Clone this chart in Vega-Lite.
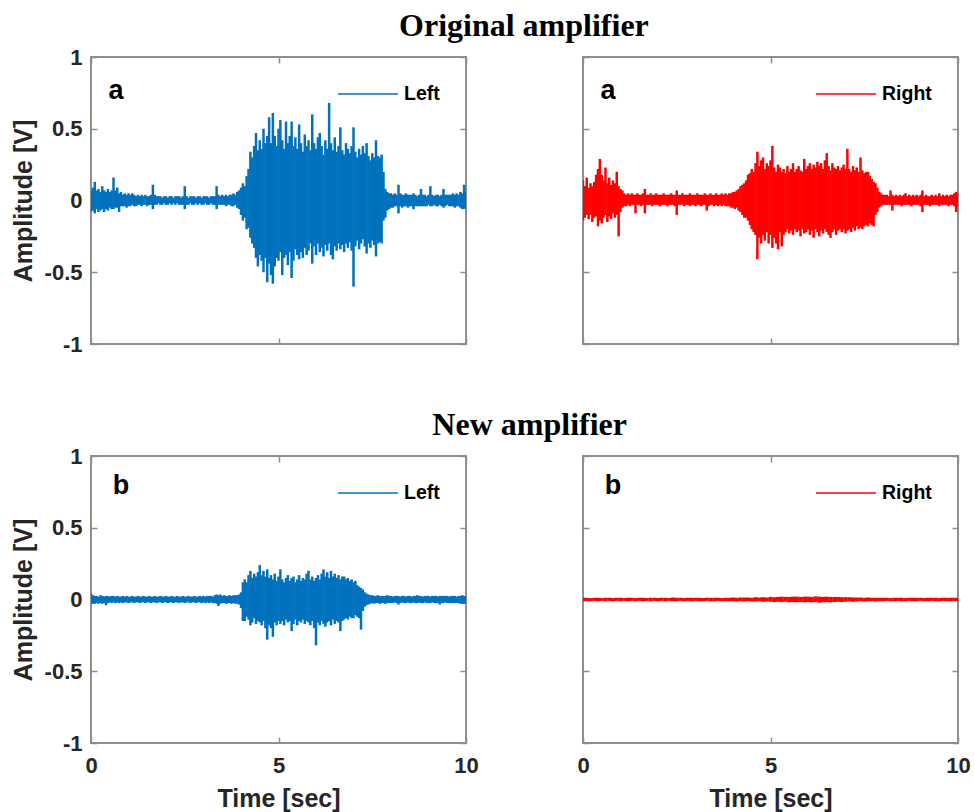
{
"$schema": "https://vega.github.io/schema/vega-lite/v6.json",
"padding": {"left": 10, "top": 10, "right": 0, "bottom": 0},
"config": {
  "view": {"stroke": "#8f8f8f", "strokeWidth": 2},
  "axis": {"labelFont": "Liberation Sans", "labelFontWeight": "bold", "labelFontSize": 22, "labelColor": "#262626", "titleFont": "Liberation Sans", "titleFontWeight": "bold", "titleFontSize": 25, "titleColor": "#262626", "domain": false, "grid": false, "tickColor": "#8f8f8f", "tickWidth": 1.5, "tickSize": -6, "labelPadding": 15, "titlePadding": 8, "labelFlush": false, "labelExpr": "'' + datum.value"},
  "legend": {"orient": "top-right", "offset": 26, "padding": 0, "symbolType": "M-5,0H1", "symbolSize": 400, "symbolStrokeWidth": 1.5, "labelFont": "Liberation Sans", "labelFontWeight": "bold", "labelFontSize": 19.5, "labelColor": "#000000", "labelOffset": 5},
  "title": {"font": "Liberation Serif", "fontSize": 32, "fontWeight": "bold", "color": "#000000", "anchor": "middle", "frame": "bounds", "baseline": "alphabetic", "offset": 2, "dx": 39}
},
"datasets": {
"tl": [
{"t":0,"lo":-0.08,"hi":0.07},{"t":0.05,"lo":-0.07,"hi":0.09},{"t":0.1,"lo":-0.09,"hi":0.13},{"t":0.15,"lo":-0.06,"hi":0.07},{"t":0.2,"lo":-0.08,"hi":0.08},{"t":0.25,"lo":-0.07,"hi":0.06},{"t":0.3,"lo":-0.06,"hi":0.1},{"t":0.35,"lo":-0.08,"hi":0.07},{"t":0.4,"lo":-0.06,"hi":0.06},{"t":0.45,"lo":-0.07,"hi":0.08},
{"t":0.5,"lo":-0.05,"hi":0.06},{"t":0.55,"lo":-0.06,"hi":0.07},{"t":0.6,"lo":-0.06,"hi":0.16},{"t":0.65,"lo":-0.05,"hi":0.07},{"t":0.7,"lo":-0.05,"hi":0.09},{"t":0.75,"lo":-0.08,"hi":0.05},{"t":0.8,"lo":-0.04,"hi":0.06},{"t":0.85,"lo":-0.04,"hi":0.04},{"t":0.9,"lo":-0.04,"hi":0.05},{"t":0.95,"lo":-0.05,"hi":0.04},
{"t":1,"lo":-0.04,"hi":0.05},{"t":1.05,"lo":-0.04,"hi":0.04},{"t":1.1,"lo":-0.03,"hi":0.05},{"t":1.15,"lo":-0.04,"hi":0.04},{"t":1.2,"lo":-0.04,"hi":0.03},{"t":1.25,"lo":-0.03,"hi":0.04},{"t":1.3,"lo":-0.03,"hi":0.03},{"t":1.35,"lo":-0.04,"hi":0.04},{"t":1.4,"lo":-0.03,"hi":0.03},{"t":1.45,"lo":-0.03,"hi":0.04},
{"t":1.5,"lo":-0.04,"hi":0.03},{"t":1.55,"lo":-0.03,"hi":0.03},{"t":1.6,"lo":-0.03,"hi":0.04},{"t":1.65,"lo":-0.06,"hi":0.11},{"t":1.7,"lo":-0.03,"hi":0.04},{"t":1.75,"lo":-0.03,"hi":0.03},{"t":1.8,"lo":-0.02,"hi":0.03},{"t":1.85,"lo":-0.03,"hi":0.03},{"t":1.9,"lo":-0.03,"hi":0.02},{"t":1.95,"lo":-0.02,"hi":0.03},
{"t":2,"lo":-0.03,"hi":0.03},{"t":2.05,"lo":-0.03,"hi":0.02},{"t":2.1,"lo":-0.02,"hi":0.03},{"t":2.15,"lo":-0.03,"hi":0.03},{"t":2.2,"lo":-0.02,"hi":0.02},{"t":2.25,"lo":-0.03,"hi":0.03},{"t":2.3,"lo":-0.02,"hi":0.03},{"t":2.35,"lo":-0.03,"hi":0.03},{"t":2.4,"lo":-0.03,"hi":0.02},{"t":2.45,"lo":-0.03,"hi":0.03},
{"t":2.5,"lo":-0.06,"hi":0.1},{"t":2.55,"lo":-0.03,"hi":0.03},{"t":2.6,"lo":-0.03,"hi":0.02},{"t":2.65,"lo":-0.02,"hi":0.03},{"t":2.7,"lo":-0.03,"hi":0.03},{"t":2.75,"lo":-0.03,"hi":0.03},{"t":2.8,"lo":-0.02,"hi":0.02},{"t":2.85,"lo":-0.03,"hi":0.03},{"t":2.9,"lo":-0.02,"hi":0.03},{"t":2.95,"lo":-0.03,"hi":0.02},
{"t":3,"lo":-0.03,"hi":0.03},{"t":3.05,"lo":-0.02,"hi":0.03},{"t":3.1,"lo":-0.03,"hi":0.03},{"t":3.15,"lo":-0.03,"hi":0.02},{"t":3.2,"lo":-0.02,"hi":0.03},{"t":3.25,"lo":-0.03,"hi":0.03},{"t":3.3,"lo":-0.03,"hi":0.03},{"t":3.35,"lo":-0.06,"hi":0.1},{"t":3.4,"lo":-0.03,"hi":0.04},{"t":3.45,"lo":-0.03,"hi":0.03},
{"t":3.5,"lo":-0.03,"hi":0.04},{"t":3.55,"lo":-0.03,"hi":0.03},{"t":3.6,"lo":-0.04,"hi":0.04},{"t":3.65,"lo":-0.03,"hi":0.03},{"t":3.7,"lo":-0.03,"hi":0.04},{"t":3.75,"lo":-0.04,"hi":0.04},{"t":3.8,"lo":-0.04,"hi":0.05},{"t":3.85,"lo":-0.03,"hi":0.04},{"t":3.9,"lo":-0.05,"hi":0.06},{"t":3.95,"lo":-0.06,"hi":0.07},
{"t":4,"lo":-0.1,"hi":0.09},{"t":4.05,"lo":-0.14,"hi":0.12},{"t":4.1,"lo":-0.12,"hi":0.1},{"t":4.15,"lo":-0.2,"hi":0.17},{"t":4.2,"lo":-0.19,"hi":0.22},{"t":4.25,"lo":-0.26,"hi":0.34},{"t":4.3,"lo":-0.3,"hi":0.3},{"t":4.35,"lo":-0.33,"hi":0.38},{"t":4.4,"lo":-0.4,"hi":0.47},{"t":4.45,"lo":-0.46,"hi":0.35},
{"t":4.5,"lo":-0.38,"hi":0.42},{"t":4.55,"lo":-0.42,"hi":0.36},{"t":4.6,"lo":-0.5,"hi":0.5},{"t":4.65,"lo":-0.4,"hi":0.4},{"t":4.7,"lo":-0.57,"hi":0.45},{"t":4.75,"lo":-0.44,"hi":0.58},{"t":4.8,"lo":-0.52,"hi":0.4},{"t":4.85,"lo":-0.58,"hi":0.61},{"t":4.9,"lo":-0.46,"hi":0.45},{"t":4.95,"lo":-0.4,"hi":0.38},
{"t":5,"lo":-0.42,"hi":0.5},{"t":5.05,"lo":-0.36,"hi":0.56},{"t":5.1,"lo":-0.52,"hi":0.42},{"t":5.15,"lo":-0.4,"hi":0.36},{"t":5.2,"lo":-0.38,"hi":0.55},{"t":5.25,"lo":-0.45,"hi":0.4},{"t":5.3,"lo":-0.36,"hi":0.45},{"t":5.35,"lo":-0.54,"hi":0.55},{"t":5.4,"lo":-0.42,"hi":0.38},{"t":5.45,"lo":-0.34,"hi":0.44},
{"t":5.5,"lo":-0.38,"hi":0.36},{"t":5.55,"lo":-0.41,"hi":0.53},{"t":5.6,"lo":-0.36,"hi":0.4},{"t":5.65,"lo":-0.4,"hi":0.34},{"t":5.7,"lo":-0.33,"hi":0.46},{"t":5.75,"lo":-0.38,"hi":0.38},{"t":5.8,"lo":-0.35,"hi":0.42},{"t":5.85,"lo":-0.3,"hi":0.35},{"t":5.9,"lo":-0.44,"hi":0.6},{"t":5.95,"lo":-0.32,"hi":0.4},
{"t":6,"lo":-0.38,"hi":0.36},{"t":6.05,"lo":-0.3,"hi":0.44},{"t":6.1,"lo":-0.36,"hi":0.47},{"t":6.15,"lo":-0.33,"hi":0.38},{"t":6.2,"lo":-0.39,"hi":0.32},{"t":6.25,"lo":-0.31,"hi":0.42},{"t":6.3,"lo":-0.35,"hi":0.36},{"t":6.35,"lo":-0.3,"hi":0.68},{"t":6.4,"lo":-0.38,"hi":0.4},{"t":6.45,"lo":-0.41,"hi":0.35},
{"t":6.5,"lo":-0.32,"hi":0.44},{"t":6.55,"lo":-0.35,"hi":0.34},{"t":6.6,"lo":-0.3,"hi":0.38},{"t":6.65,"lo":-0.34,"hi":0.51},{"t":6.7,"lo":-0.31,"hi":0.35},{"t":6.75,"lo":-0.36,"hi":0.32},{"t":6.8,"lo":-0.3,"hi":0.4},{"t":6.85,"lo":-0.33,"hi":0.36},{"t":6.9,"lo":-0.29,"hi":0.33},{"t":6.95,"lo":-0.35,"hi":0.38},
{"t":7,"lo":-0.6,"hi":0.51},{"t":7.05,"lo":-0.32,"hi":0.34},{"t":7.1,"lo":-0.28,"hi":0.3},{"t":7.15,"lo":-0.34,"hi":0.36},{"t":7.2,"lo":-0.3,"hi":0.32},{"t":7.25,"lo":-0.27,"hi":0.38},{"t":7.3,"lo":-0.32,"hi":0.33},{"t":7.35,"lo":-0.37,"hi":0.4},{"t":7.4,"lo":-0.3,"hi":0.31},{"t":7.45,"lo":-0.33,"hi":0.28},
{"t":7.5,"lo":-0.28,"hi":0.33},{"t":7.55,"lo":-0.31,"hi":0.3},{"t":7.6,"lo":-0.39,"hi":0.42},{"t":7.65,"lo":-0.3,"hi":0.31},{"t":7.7,"lo":-0.29,"hi":0.3},{"t":7.75,"lo":-0.3,"hi":0.32},{"t":7.8,"lo":-0.14,"hi":0.2},{"t":7.85,"lo":-0.12,"hi":0.08},{"t":7.9,"lo":-0.07,"hi":0.06},{"t":7.95,"lo":-0.06,"hi":0.05},
{"t":8,"lo":-0.05,"hi":0.05},{"t":8.05,"lo":-0.05,"hi":0.04},{"t":8.1,"lo":-0.04,"hi":0.05},{"t":8.15,"lo":-0.04,"hi":0.04},{"t":8.2,"lo":-0.09,"hi":0.11},{"t":8.25,"lo":-0.04,"hi":0.05},{"t":8.3,"lo":-0.05,"hi":0.04},{"t":8.35,"lo":-0.04,"hi":0.04},{"t":8.4,"lo":-0.04,"hi":0.05},{"t":8.45,"lo":-0.05,"hi":0.04},
{"t":8.5,"lo":-0.04,"hi":0.04},{"t":8.55,"lo":-0.04,"hi":0.04},{"t":8.6,"lo":-0.06,"hi":0.05},{"t":8.65,"lo":-0.04,"hi":0.04},{"t":8.7,"lo":-0.04,"hi":0.03},{"t":8.75,"lo":-0.04,"hi":0.04},{"t":8.8,"lo":-0.04,"hi":0.08},{"t":8.85,"lo":-0.04,"hi":0.04},{"t":8.9,"lo":-0.04,"hi":0.04},{"t":8.95,"lo":-0.04,"hi":0.03},
{"t":9,"lo":-0.03,"hi":0.04},{"t":9.05,"lo":-0.04,"hi":0.1},{"t":9.1,"lo":-0.04,"hi":0.04},{"t":9.15,"lo":-0.03,"hi":0.03},{"t":9.2,"lo":-0.04,"hi":0.04},{"t":9.25,"lo":-0.04,"hi":0.04},{"t":9.3,"lo":-0.03,"hi":0.03},{"t":9.35,"lo":-0.04,"hi":0.04},{"t":9.4,"lo":-0.05,"hi":0.08},{"t":9.45,"lo":-0.04,"hi":0.04},
{"t":9.5,"lo":-0.03,"hi":0.04},{"t":9.55,"lo":-0.04,"hi":0.04},{"t":9.6,"lo":-0.04,"hi":0.04},{"t":9.65,"lo":-0.04,"hi":0.05},{"t":9.7,"lo":-0.05,"hi":0.04},{"t":9.75,"lo":-0.04,"hi":0.05},{"t":9.8,"lo":-0.04,"hi":0.04},{"t":9.85,"lo":-0.05,"hi":0.06},{"t":9.9,"lo":-0.06,"hi":0.05},{"t":9.95,"lo":-0.06,"hi":0.11},{"t":10,"lo":-0.05,"hi":0.06}
],
"tr": [
{"t":0,"lo":-0.14,"hi":0.14},{"t":0.05,"lo":-0.12,"hi":0.1},{"t":0.1,"lo":-0.1,"hi":0.16},{"t":0.15,"lo":-0.13,"hi":0.09},{"t":0.2,"lo":-0.1,"hi":0.12},{"t":0.25,"lo":-0.15,"hi":0.1},{"t":0.3,"lo":-0.12,"hi":0.13},{"t":0.35,"lo":-0.11,"hi":0.18},{"t":0.4,"lo":-0.18,"hi":0.22},{"t":0.45,"lo":-0.14,"hi":0.29},
{"t":0.5,"lo":-0.16,"hi":0.18},{"t":0.55,"lo":-0.12,"hi":0.14},{"t":0.6,"lo":-0.1,"hi":0.23},{"t":0.65,"lo":-0.15,"hi":0.12},{"t":0.7,"lo":-0.11,"hi":0.16},{"t":0.75,"lo":-0.13,"hi":0.11},{"t":0.8,"lo":-0.09,"hi":0.14},{"t":0.85,"lo":-0.12,"hi":0.12},{"t":0.9,"lo":-0.1,"hi":0.2},{"t":0.95,"lo":-0.25,"hi":0.1},
{"t":1,"lo":-0.08,"hi":0.08},{"t":1.05,"lo":-0.05,"hi":0.07},{"t":1.1,"lo":-0.04,"hi":0.05},{"t":1.15,"lo":-0.04,"hi":0.04},{"t":1.2,"lo":-0.03,"hi":0.05},{"t":1.25,"lo":-0.04,"hi":0.04},{"t":1.3,"lo":-0.03,"hi":0.05},{"t":1.35,"lo":-0.03,"hi":0.04},{"t":1.4,"lo":-0.09,"hi":0.04},{"t":1.45,"lo":-0.03,"hi":0.05},
{"t":1.5,"lo":-0.03,"hi":0.04},{"t":1.55,"lo":-0.04,"hi":0.04},{"t":1.6,"lo":-0.03,"hi":0.05},{"t":1.65,"lo":-0.09,"hi":0.08},{"t":1.7,"lo":-0.03,"hi":0.04},{"t":1.75,"lo":-0.03,"hi":0.04},{"t":1.8,"lo":-0.03,"hi":0.05},{"t":1.85,"lo":-0.04,"hi":0.04},{"t":1.9,"lo":-0.03,"hi":0.04},{"t":1.95,"lo":-0.03,"hi":0.05},
{"t":2,"lo":-0.03,"hi":0.04},{"t":2.05,"lo":-0.04,"hi":0.04},{"t":2.1,"lo":-0.03,"hi":0.04},{"t":2.15,"lo":-0.03,"hi":0.05},{"t":2.2,"lo":-0.03,"hi":0.04},{"t":2.25,"lo":-0.04,"hi":0.04},{"t":2.3,"lo":-0.03,"hi":0.04},{"t":2.35,"lo":-0.03,"hi":0.05},{"t":2.4,"lo":-0.03,"hi":0.04},{"t":2.45,"lo":-0.04,"hi":0.04},
{"t":2.5,"lo":-0.1,"hi":0.07},{"t":2.55,"lo":-0.03,"hi":0.04},{"t":2.6,"lo":-0.03,"hi":0.04},{"t":2.65,"lo":-0.03,"hi":0.05},{"t":2.7,"lo":-0.04,"hi":0.04},{"t":2.75,"lo":-0.03,"hi":0.04},{"t":2.8,"lo":-0.03,"hi":0.04},{"t":2.85,"lo":-0.04,"hi":0.05},{"t":2.9,"lo":-0.03,"hi":0.04},{"t":2.95,"lo":-0.03,"hi":0.04},
{"t":3,"lo":-0.04,"hi":0.04},{"t":3.05,"lo":-0.03,"hi":0.05},{"t":3.1,"lo":-0.03,"hi":0.04},{"t":3.15,"lo":-0.04,"hi":0.04},{"t":3.2,"lo":-0.03,"hi":0.04},{"t":3.25,"lo":-0.03,"hi":0.05},{"t":3.3,"lo":-0.07,"hi":0.04},{"t":3.35,"lo":-0.04,"hi":0.04},{"t":3.4,"lo":-0.03,"hi":0.05},{"t":3.45,"lo":-0.03,"hi":0.04},
{"t":3.5,"lo":-0.04,"hi":0.04},{"t":3.55,"lo":-0.03,"hi":0.05},{"t":3.6,"lo":-0.04,"hi":0.04},{"t":3.65,"lo":-0.03,"hi":0.04},{"t":3.7,"lo":-0.04,"hi":0.05},{"t":3.75,"lo":-0.03,"hi":0.04},{"t":3.8,"lo":-0.04,"hi":0.05},{"t":3.85,"lo":-0.04,"hi":0.04},{"t":3.9,"lo":-0.04,"hi":0.05},{"t":3.95,"lo":-0.05,"hi":0.05},
{"t":4,"lo":-0.05,"hi":0.06},{"t":4.05,"lo":-0.06,"hi":0.06},{"t":4.1,"lo":-0.05,"hi":0.07},{"t":4.15,"lo":-0.07,"hi":0.08},{"t":4.2,"lo":-0.08,"hi":0.1},{"t":4.25,"lo":-0.1,"hi":0.11},{"t":4.3,"lo":-0.12,"hi":0.12},{"t":4.35,"lo":-0.12,"hi":0.14},{"t":4.4,"lo":-0.14,"hi":0.18},{"t":4.45,"lo":-0.17,"hi":0.19},
{"t":4.5,"lo":-0.2,"hi":0.22},{"t":4.55,"lo":-0.22,"hi":0.2},{"t":4.6,"lo":-0.24,"hi":0.26},{"t":4.65,"lo":-0.41,"hi":0.34},{"t":4.7,"lo":-0.26,"hi":0.24},{"t":4.75,"lo":-0.3,"hi":0.28},{"t":4.8,"lo":-0.24,"hi":0.3},{"t":4.85,"lo":-0.28,"hi":0.22},{"t":4.9,"lo":-0.22,"hi":0.26},{"t":4.95,"lo":-0.3,"hi":0.24},
{"t":5,"lo":-0.24,"hi":0.28},{"t":5.05,"lo":-0.33,"hi":0.38},{"t":5.1,"lo":-0.26,"hi":0.23},{"t":5.15,"lo":-0.3,"hi":0.2},{"t":5.2,"lo":-0.34,"hi":0.25},{"t":5.25,"lo":-0.22,"hi":0.23},{"t":5.3,"lo":-0.32,"hi":0.2},{"t":5.35,"lo":-0.24,"hi":0.22},{"t":5.4,"lo":-0.22,"hi":0.19},{"t":5.45,"lo":-0.2,"hi":0.24},
{"t":5.5,"lo":-0.23,"hi":0.2},{"t":5.55,"lo":-0.21,"hi":0.22},{"t":5.6,"lo":-0.24,"hi":0.26},{"t":5.65,"lo":-0.2,"hi":0.2},{"t":5.7,"lo":-0.22,"hi":0.22},{"t":5.75,"lo":-0.21,"hi":0.24},{"t":5.8,"lo":-0.25,"hi":0.21},{"t":5.85,"lo":-0.2,"hi":0.2},{"t":5.9,"lo":-0.23,"hi":0.29},{"t":5.95,"lo":-0.22,"hi":0.22},
{"t":6,"lo":-0.2,"hi":0.24},{"t":6.05,"lo":-0.24,"hi":0.26},{"t":6.1,"lo":-0.21,"hi":0.22},{"t":6.15,"lo":-0.26,"hi":0.25},{"t":6.2,"lo":-0.2,"hi":0.23},{"t":6.25,"lo":-0.22,"hi":0.27},{"t":6.3,"lo":-0.25,"hi":0.24},{"t":6.35,"lo":-0.21,"hi":0.26},{"t":6.4,"lo":-0.23,"hi":0.22},{"t":6.45,"lo":-0.2,"hi":0.28},
{"t":6.5,"lo":-0.22,"hi":0.33},{"t":6.55,"lo":-0.24,"hi":0.24},{"t":6.6,"lo":-0.26,"hi":0.21},{"t":6.65,"lo":-0.22,"hi":0.26},{"t":6.7,"lo":-0.2,"hi":0.23},{"t":6.75,"lo":-0.24,"hi":0.22},{"t":6.8,"lo":-0.21,"hi":0.24},{"t":6.85,"lo":-0.2,"hi":0.21},{"t":6.9,"lo":-0.22,"hi":0.23},{"t":6.95,"lo":-0.2,"hi":0.25},
{"t":7,"lo":-0.23,"hi":0.22},{"t":7.05,"lo":-0.21,"hi":0.36},{"t":7.1,"lo":-0.2,"hi":0.22},{"t":7.15,"lo":-0.22,"hi":0.2},{"t":7.2,"lo":-0.19,"hi":0.24},{"t":7.25,"lo":-0.21,"hi":0.21},{"t":7.3,"lo":-0.18,"hi":0.23},{"t":7.35,"lo":-0.2,"hi":0.2},{"t":7.4,"lo":-0.19,"hi":0.3},{"t":7.45,"lo":-0.2,"hi":0.21},
{"t":7.5,"lo":-0.18,"hi":0.19},{"t":7.55,"lo":-0.17,"hi":0.2},{"t":7.6,"lo":-0.18,"hi":0.2},{"t":7.65,"lo":-0.16,"hi":0.17},{"t":7.7,"lo":-0.17,"hi":0.15},{"t":7.75,"lo":-0.18,"hi":0.13},{"t":7.8,"lo":-0.1,"hi":0.12},{"t":7.85,"lo":-0.08,"hi":0.09},{"t":7.9,"lo":-0.05,"hi":0.06},{"t":7.95,"lo":-0.04,"hi":0.05},
{"t":8,"lo":-0.03,"hi":0.04},{"t":8.05,"lo":-0.03,"hi":0.04},{"t":8.1,"lo":-0.03,"hi":0.04},{"t":8.15,"lo":-0.03,"hi":0.03},{"t":8.2,"lo":-0.03,"hi":0.07},{"t":8.25,"lo":-0.07,"hi":0.04},{"t":8.3,"lo":-0.03,"hi":0.03},{"t":8.35,"lo":-0.03,"hi":0.04},{"t":8.4,"lo":-0.03,"hi":0.03},{"t":8.45,"lo":-0.03,"hi":0.04},
{"t":8.5,"lo":-0.04,"hi":0.03},{"t":8.55,"lo":-0.03,"hi":0.04},{"t":8.6,"lo":-0.03,"hi":0.05},{"t":8.65,"lo":-0.03,"hi":0.03},{"t":8.7,"lo":-0.03,"hi":0.04},{"t":8.75,"lo":-0.04,"hi":0.03},{"t":8.8,"lo":-0.03,"hi":0.04},{"t":8.85,"lo":-0.03,"hi":0.03},{"t":8.9,"lo":-0.03,"hi":0.04},{"t":8.95,"lo":-0.03,"hi":0.03},
{"t":9,"lo":-0.04,"hi":0.04},{"t":9.05,"lo":-0.08,"hi":0.07},{"t":9.1,"lo":-0.03,"hi":0.03},{"t":9.15,"lo":-0.03,"hi":0.04},{"t":9.2,"lo":-0.03,"hi":0.03},{"t":9.25,"lo":-0.04,"hi":0.03},{"t":9.3,"lo":-0.03,"hi":0.04},{"t":9.35,"lo":-0.03,"hi":0.03},{"t":9.4,"lo":-0.03,"hi":0.04},{"t":9.45,"lo":-0.03,"hi":0.03},
{"t":9.5,"lo":-0.04,"hi":0.05},{"t":9.55,"lo":-0.03,"hi":0.03},{"t":9.6,"lo":-0.03,"hi":0.04},{"t":9.65,"lo":-0.03,"hi":0.03},{"t":9.7,"lo":-0.03,"hi":0.04},{"t":9.75,"lo":-0.04,"hi":0.03},{"t":9.8,"lo":-0.03,"hi":0.04},{"t":9.85,"lo":-0.03,"hi":0.04},{"t":9.9,"lo":-0.04,"hi":0.05},{"t":9.95,"lo":-0.08,"hi":0.06},{"t":10,"lo":-0.04,"hi":0.05}
],
"bl": [
{"t":0,"lo":-0.03,"hi":0.04},{"t":0.05,"lo":-0.03,"hi":0.03},{"t":0.1,"lo":-0.03,"hi":0.025},{"t":0.15,"lo":-0.025,"hi":0.025},{"t":0.2,"lo":-0.03,"hi":0.02},{"t":0.25,"lo":-0.025,"hi":0.03},{"t":0.3,"lo":-0.03,"hi":0.025},{"t":0.35,"lo":-0.025,"hi":0.02},{"t":0.4,"lo":-0.04,"hi":0.025},{"t":0.45,"lo":-0.025,"hi":0.025},
{"t":0.5,"lo":-0.02,"hi":0.02},{"t":0.55,"lo":-0.025,"hi":0.025},{"t":0.6,"lo":-0.02,"hi":0.025},{"t":0.65,"lo":-0.025,"hi":0.02},{"t":0.7,"lo":-0.02,"hi":0.025},{"t":0.75,"lo":-0.025,"hi":0.02},{"t":0.8,"lo":-0.02,"hi":0.02},{"t":0.85,"lo":-0.025,"hi":0.025},{"t":0.9,"lo":-0.02,"hi":0.02},{"t":0.95,"lo":-0.02,"hi":0.025},
{"t":1,"lo":-0.025,"hi":0.02},{"t":1.05,"lo":-0.02,"hi":0.02},{"t":1.1,"lo":-0.02,"hi":0.025},{"t":1.15,"lo":-0.025,"hi":0.02},{"t":1.2,"lo":-0.02,"hi":0.02},{"t":1.25,"lo":-0.02,"hi":0.025},{"t":1.3,"lo":-0.025,"hi":0.02},{"t":1.35,"lo":-0.02,"hi":0.02},{"t":1.4,"lo":-0.02,"hi":0.025},{"t":1.45,"lo":-0.025,"hi":0.02},
{"t":1.5,"lo":-0.02,"hi":0.02},{"t":1.55,"lo":-0.02,"hi":0.025},{"t":1.6,"lo":-0.025,"hi":0.02},{"t":1.65,"lo":-0.02,"hi":0.02},{"t":1.7,"lo":-0.02,"hi":0.025},{"t":1.75,"lo":-0.025,"hi":0.02},{"t":1.8,"lo":-0.02,"hi":0.02},{"t":1.85,"lo":-0.02,"hi":0.025},{"t":1.9,"lo":-0.025,"hi":0.02},{"t":1.95,"lo":-0.02,"hi":0.02},
{"t":2,"lo":-0.02,"hi":0.025},{"t":2.05,"lo":-0.025,"hi":0.02},{"t":2.1,"lo":-0.02,"hi":0.02},{"t":2.15,"lo":-0.02,"hi":0.025},{"t":2.2,"lo":-0.025,"hi":0.02},{"t":2.25,"lo":-0.02,"hi":0.02},{"t":2.3,"lo":-0.02,"hi":0.025},{"t":2.35,"lo":-0.025,"hi":0.02},{"t":2.4,"lo":-0.02,"hi":0.02},{"t":2.45,"lo":-0.02,"hi":0.025},
{"t":2.5,"lo":-0.025,"hi":0.02},{"t":2.55,"lo":-0.02,"hi":0.02},{"t":2.6,"lo":-0.02,"hi":0.025},{"t":2.65,"lo":-0.025,"hi":0.02},{"t":2.7,"lo":-0.02,"hi":0.02},{"t":2.75,"lo":-0.02,"hi":0.025},{"t":2.8,"lo":-0.025,"hi":0.02},{"t":2.85,"lo":-0.02,"hi":0.02},{"t":2.9,"lo":-0.02,"hi":0.025},{"t":2.95,"lo":-0.025,"hi":0.02},
{"t":3,"lo":-0.02,"hi":0.025},{"t":3.05,"lo":-0.025,"hi":0.02},{"t":3.1,"lo":-0.02,"hi":0.025},{"t":3.15,"lo":-0.025,"hi":0.025},{"t":3.2,"lo":-0.02,"hi":0.025},{"t":3.25,"lo":-0.025,"hi":0.02},{"t":3.3,"lo":-0.025,"hi":0.03},{"t":3.35,"lo":-0.03,"hi":0.035},{"t":3.4,"lo":-0.045,"hi":0.03},{"t":3.45,"lo":-0.03,"hi":0.035},
{"t":3.5,"lo":-0.025,"hi":0.025},{"t":3.55,"lo":-0.025,"hi":0.03},{"t":3.6,"lo":-0.03,"hi":0.025},{"t":3.65,"lo":-0.025,"hi":0.025},{"t":3.7,"lo":-0.025,"hi":0.03},{"t":3.75,"lo":-0.03,"hi":0.025},{"t":3.8,"lo":-0.025,"hi":0.03},{"t":3.85,"lo":-0.03,"hi":0.03},{"t":3.9,"lo":-0.03,"hi":0.03},{"t":3.95,"lo":-0.035,"hi":0.035},
{"t":4,"lo":-0.06,"hi":0.05},{"t":4.05,"lo":-0.15,"hi":0.12},{"t":4.1,"lo":-0.15,"hi":0.14},{"t":4.15,"lo":-0.12,"hi":0.12},{"t":4.2,"lo":-0.14,"hi":0.17},{"t":4.25,"lo":-0.18,"hi":0.2},{"t":4.3,"lo":-0.16,"hi":0.15},{"t":4.35,"lo":-0.13,"hi":0.18},{"t":4.4,"lo":-0.17,"hi":0.16},{"t":4.45,"lo":-0.15,"hi":0.19},
{"t":4.5,"lo":-0.16,"hi":0.24},{"t":4.55,"lo":-0.18,"hi":0.17},{"t":4.6,"lo":-0.15,"hi":0.2},{"t":4.65,"lo":-0.2,"hi":0.16},{"t":4.7,"lo":-0.28,"hi":0.21},{"t":4.75,"lo":-0.18,"hi":0.15},{"t":4.8,"lo":-0.2,"hi":0.17},{"t":4.85,"lo":-0.26,"hi":0.14},{"t":4.9,"lo":-0.16,"hi":0.18},{"t":4.95,"lo":-0.18,"hi":0.13},
{"t":5,"lo":-0.15,"hi":0.16},{"t":5.05,"lo":-0.17,"hi":0.21},{"t":5.1,"lo":-0.15,"hi":0.14},{"t":5.15,"lo":-0.18,"hi":0.12},{"t":5.2,"lo":-0.14,"hi":0.15},{"t":5.25,"lo":-0.16,"hi":0.17},{"t":5.3,"lo":-0.15,"hi":0.13},{"t":5.35,"lo":-0.22,"hi":0.15},{"t":5.4,"lo":-0.17,"hi":0.16},{"t":5.45,"lo":-0.14,"hi":0.12},
{"t":5.5,"lo":-0.18,"hi":0.14},{"t":5.55,"lo":-0.15,"hi":0.17},{"t":5.6,"lo":-0.16,"hi":0.13},{"t":5.65,"lo":-0.14,"hi":0.15},{"t":5.7,"lo":-0.17,"hi":0.14},{"t":5.75,"lo":-0.15,"hi":0.18},{"t":5.8,"lo":-0.16,"hi":0.2},{"t":5.85,"lo":-0.18,"hi":0.14},{"t":5.9,"lo":-0.15,"hi":0.16},{"t":5.95,"lo":-0.2,"hi":0.13},
{"t":6,"lo":-0.32,"hi":0.15},{"t":6.05,"lo":-0.16,"hi":0.17},{"t":6.1,"lo":-0.18,"hi":0.14},{"t":6.15,"lo":-0.15,"hi":0.18},{"t":6.2,"lo":-0.17,"hi":0.21},{"t":6.25,"lo":-0.19,"hi":0.16},{"t":6.3,"lo":-0.16,"hi":0.19},{"t":6.35,"lo":-0.15,"hi":0.15},{"t":6.4,"lo":-0.18,"hi":0.2},{"t":6.45,"lo":-0.14,"hi":0.16},
{"t":6.5,"lo":-0.17,"hi":0.18},{"t":6.55,"lo":-0.15,"hi":0.15},{"t":6.6,"lo":-0.16,"hi":0.17},{"t":6.65,"lo":-0.22,"hi":0.14},{"t":6.7,"lo":-0.15,"hi":0.16},{"t":6.75,"lo":-0.14,"hi":0.16},{"t":6.8,"lo":-0.13,"hi":0.14},{"t":6.85,"lo":-0.14,"hi":0.15},{"t":6.9,"lo":-0.12,"hi":0.13},{"t":6.95,"lo":-0.13,"hi":0.14},
{"t":7,"lo":-0.13,"hi":0.12},{"t":7.05,"lo":-0.11,"hi":0.13},{"t":7.1,"lo":-0.12,"hi":0.1},{"t":7.15,"lo":-0.13,"hi":0.09},{"t":7.2,"lo":-0.21,"hi":0.08},{"t":7.25,"lo":-0.08,"hi":0.07},{"t":7.3,"lo":-0.05,"hi":0.05},{"t":7.35,"lo":-0.04,"hi":0.04},{"t":7.4,"lo":-0.035,"hi":0.035},{"t":7.45,"lo":-0.03,"hi":0.03},
{"t":7.5,"lo":-0.025,"hi":0.03},{"t":7.55,"lo":-0.03,"hi":0.025},{"t":7.6,"lo":-0.025,"hi":0.025},{"t":7.65,"lo":-0.025,"hi":0.03},{"t":7.7,"lo":-0.03,"hi":0.025},{"t":7.75,"lo":-0.025,"hi":0.025},{"t":7.8,"lo":-0.025,"hi":0.025},{"t":7.85,"lo":-0.03,"hi":0.025},{"t":7.9,"lo":-0.025,"hi":0.03},{"t":7.95,"lo":-0.025,"hi":0.025},
{"t":8,"lo":-0.025,"hi":0.025},{"t":8.05,"lo":-0.025,"hi":0.02},{"t":8.1,"lo":-0.02,"hi":0.025},{"t":8.15,"lo":-0.025,"hi":0.025},{"t":8.2,"lo":-0.035,"hi":0.025},{"t":8.25,"lo":-0.025,"hi":0.02},{"t":8.3,"lo":-0.02,"hi":0.025},{"t":8.35,"lo":-0.025,"hi":0.025},{"t":8.4,"lo":-0.025,"hi":0.02},{"t":8.45,"lo":-0.02,"hi":0.025},
{"t":8.5,"lo":-0.025,"hi":0.025},{"t":8.55,"lo":-0.025,"hi":0.02},{"t":8.6,"lo":-0.02,"hi":0.025},{"t":8.65,"lo":-0.025,"hi":0.025},{"t":8.7,"lo":-0.025,"hi":0.03},{"t":8.75,"lo":-0.02,"hi":0.025},{"t":8.8,"lo":-0.025,"hi":0.025},{"t":8.85,"lo":-0.025,"hi":0.02},{"t":8.9,"lo":-0.02,"hi":0.025},{"t":8.95,"lo":-0.025,"hi":0.025},
{"t":9,"lo":-0.025,"hi":0.025},{"t":9.05,"lo":-0.025,"hi":0.02},{"t":9.1,"lo":-0.02,"hi":0.025},{"t":9.15,"lo":-0.025,"hi":0.025},{"t":9.2,"lo":-0.025,"hi":0.025},{"t":9.25,"lo":-0.025,"hi":0.02},{"t":9.3,"lo":-0.035,"hi":0.025},{"t":9.35,"lo":-0.025,"hi":0.025},{"t":9.4,"lo":-0.025,"hi":0.025},{"t":9.45,"lo":-0.02,"hi":0.025},
{"t":9.5,"lo":-0.025,"hi":0.025},{"t":9.55,"lo":-0.025,"hi":0.02},{"t":9.6,"lo":-0.025,"hi":0.025},{"t":9.65,"lo":-0.025,"hi":0.025},{"t":9.7,"lo":-0.025,"hi":0.025},{"t":9.75,"lo":-0.025,"hi":0.02},{"t":9.8,"lo":-0.025,"hi":0.025},{"t":9.85,"lo":-0.03,"hi":0.025},{"t":9.9,"lo":-0.03,"hi":0.03},{"t":9.95,"lo":-0.03,"hi":0.025},{"t":10,"lo":-0.03,"hi":0.025}
],
"br": [
{"t":0,"lo":-0.012,"hi":0.012},{"t":0.1,"lo":-0.01,"hi":0.012},{"t":0.2,"lo":-0.012,"hi":0.01},{"t":0.3,"lo":-0.01,"hi":0.012},{"t":0.4,"lo":-0.012,"hi":0.012},{"t":0.5,"lo":-0.01,"hi":0.01},{"t":0.6,"lo":-0.012,"hi":0.012},{"t":0.7,"lo":-0.01,"hi":0.012},{"t":0.8,"lo":-0.012,"hi":0.01},{"t":0.9,"lo":-0.01,"hi":0.012},
{"t":1,"lo":-0.012,"hi":0.012},{"t":1.1,"lo":-0.01,"hi":0.01},{"t":1.2,"lo":-0.012,"hi":0.012},{"t":1.3,"lo":-0.01,"hi":0.012},{"t":1.4,"lo":-0.012,"hi":0.01},{"t":1.5,"lo":-0.01,"hi":0.012},{"t":1.6,"lo":-0.012,"hi":0.012},{"t":1.7,"lo":-0.01,"hi":0.01},{"t":1.8,"lo":-0.012,"hi":0.012},{"t":1.9,"lo":-0.01,"hi":0.012},
{"t":2,"lo":-0.012,"hi":0.01},{"t":2.1,"lo":-0.01,"hi":0.012},{"t":2.2,"lo":-0.012,"hi":0.012},{"t":2.3,"lo":-0.01,"hi":0.01},{"t":2.4,"lo":-0.012,"hi":0.014},{"t":2.5,"lo":-0.012,"hi":0.012},{"t":2.6,"lo":-0.01,"hi":0.012},{"t":2.7,"lo":-0.012,"hi":0.01},{"t":2.8,"lo":-0.01,"hi":0.012},{"t":2.9,"lo":-0.012,"hi":0.012},
{"t":3,"lo":-0.01,"hi":0.012},{"t":3.1,"lo":-0.012,"hi":0.012},{"t":3.2,"lo":-0.012,"hi":0.01},{"t":3.3,"lo":-0.01,"hi":0.012},{"t":3.4,"lo":-0.012,"hi":0.012},{"t":3.5,"lo":-0.012,"hi":0.012},{"t":3.6,"lo":-0.01,"hi":0.012},{"t":3.7,"lo":-0.012,"hi":0.01},{"t":3.8,"lo":-0.012,"hi":0.012},{"t":3.9,"lo":-0.012,"hi":0.012},
{"t":4,"lo":-0.012,"hi":0.014},{"t":4.1,"lo":-0.014,"hi":0.012},{"t":4.2,"lo":-0.012,"hi":0.014},{"t":4.3,"lo":-0.014,"hi":0.014},{"t":4.4,"lo":-0.012,"hi":0.014},{"t":4.5,"lo":-0.014,"hi":0.012},{"t":4.6,"lo":-0.014,"hi":0.016},{"t":4.7,"lo":-0.012,"hi":0.014},{"t":4.8,"lo":-0.016,"hi":0.016},{"t":4.9,"lo":-0.014,"hi":0.014},
{"t":5,"lo":-0.016,"hi":0.018},{"t":5.1,"lo":-0.018,"hi":0.016},{"t":5.2,"lo":-0.016,"hi":0.018},{"t":5.3,"lo":-0.018,"hi":0.02},{"t":5.4,"lo":-0.016,"hi":0.018},{"t":5.5,"lo":-0.02,"hi":0.018},{"t":5.6,"lo":-0.018,"hi":0.02},{"t":5.7,"lo":-0.02,"hi":0.02},{"t":5.8,"lo":-0.018,"hi":0.018},{"t":5.9,"lo":-0.02,"hi":0.02},
{"t":6,"lo":-0.018,"hi":0.02},{"t":6.1,"lo":-0.02,"hi":0.018},{"t":6.2,"lo":-0.018,"hi":0.022},{"t":6.3,"lo":-0.022,"hi":0.02},{"t":6.4,"lo":-0.02,"hi":0.018},{"t":6.5,"lo":-0.018,"hi":0.02},{"t":6.6,"lo":-0.02,"hi":0.018},{"t":6.7,"lo":-0.018,"hi":0.018},{"t":6.8,"lo":-0.016,"hi":0.018},{"t":6.9,"lo":-0.018,"hi":0.016},
{"t":7,"lo":-0.016,"hi":0.016},{"t":7.1,"lo":-0.014,"hi":0.016},{"t":7.2,"lo":-0.016,"hi":0.014},{"t":7.3,"lo":-0.014,"hi":0.014},{"t":7.4,"lo":-0.012,"hi":0.014},{"t":7.5,"lo":-0.014,"hi":0.012},{"t":7.6,"lo":-0.012,"hi":0.014},{"t":7.7,"lo":-0.012,"hi":0.012},{"t":7.8,"lo":-0.014,"hi":0.012},{"t":7.9,"lo":-0.012,"hi":0.012},
{"t":8,"lo":-0.012,"hi":0.012},{"t":8.1,"lo":-0.01,"hi":0.012},{"t":8.2,"lo":-0.012,"hi":0.01},{"t":8.3,"lo":-0.012,"hi":0.012},{"t":8.4,"lo":-0.01,"hi":0.012},{"t":8.5,"lo":-0.012,"hi":0.012},{"t":8.6,"lo":-0.012,"hi":0.01},{"t":8.7,"lo":-0.01,"hi":0.012},{"t":8.8,"lo":-0.012,"hi":0.012},{"t":8.9,"lo":-0.012,"hi":0.012},
{"t":9,"lo":-0.01,"hi":0.012},{"t":9.1,"lo":-0.012,"hi":0.01},{"t":9.2,"lo":-0.012,"hi":0.012},{"t":9.3,"lo":-0.01,"hi":0.012},{"t":9.4,"lo":-0.012,"hi":0.012},{"t":9.5,"lo":-0.012,"hi":0.01},{"t":9.6,"lo":-0.01,"hi":0.012},{"t":9.7,"lo":-0.012,"hi":0.012},{"t":9.8,"lo":-0.012,"hi":0.012},{"t":9.9,"lo":-0.01,"hi":0.012},{"t":10,"lo":-0.012,"hi":0.012}
]
},
"spacing": 53,
"resolve": {"scale": {"color": "independent"}, "legend": {"color": "independent"}},
"vconcat": [
{
  "title": {"text": "Original amplifier"},
  "bounds": "flush",
  "spacing": 117,
  "resolve": {"scale": {"color": "independent"}, "legend": {"color": "independent"}},
  "hconcat": [
    {
      "width": 375, "height": 287,
      "resolve": {"axis": {"x": "independent", "y": "independent"}},
      "layer": [
        {
          "data": {"name": "tl"},
          "mark": {"type": "rule", "strokeWidth": 2.5, "clip": true},
          "encoding": {
            "x": {"field": "t", "type": "quantitative", "scale": {"domain": [0, 10], "nice": false}, "axis": {"orient": "bottom", "values": [0, 5, 10], "labels": false, "title": null}},
            "y": {"field": "lo", "type": "quantitative", "scale": {"domain": [-1, 1], "nice": false}, "axis": {"orient": "left", "values": [-1, -0.5, 0, 0.5, 1], "title": "Amplitude [V]"}},
            "y2": {"field": "hi"},
            "color": {"datum": "Left", "type": "nominal", "scale": {"range": ["#0072BD"]}, "legend": {"title": null}}
          }
        },
        {
          "data": {"values": [{}]},
          "mark": {"type": "text", "text": "a", "font": "Liberation Sans", "fontWeight": "bold", "fontSize": 27, "color": "#000000", "baseline": "middle", "align": "center"},
          "encoding": {
            "x": {"datum": 0.67, "type": "quantitative", "axis": {"orient": "top", "values": [0, 5, 10], "labels": false, "title": null}},
            "y": {"datum": 0.76, "type": "quantitative", "axis": {"orient": "right", "values": [-1, -0.5, 0, 0.5, 1], "labels": false, "title": null}}
          }
        }
      ]
    },
    {
      "width": 375, "height": 287,
      "resolve": {"axis": {"x": "independent", "y": "independent"}},
      "layer": [
        {
          "data": {"name": "tr"},
          "mark": {"type": "rule", "strokeWidth": 2.5, "clip": true},
          "encoding": {
            "x": {"field": "t", "type": "quantitative", "scale": {"domain": [0, 10], "nice": false}, "axis": {"orient": "bottom", "values": [0, 5, 10], "labels": false, "title": null}},
            "y": {"field": "lo", "type": "quantitative", "scale": {"domain": [-1, 1], "nice": false}, "axis": {"orient": "left", "values": [-1, -0.5, 0, 0.5, 1], "labels": false, "title": null}},
            "y2": {"field": "hi"},
            "color": {"datum": "Right", "type": "nominal", "scale": {"range": ["#FF0000"]}, "legend": {"title": null}}
          }
        },
        {
          "data": {"values": [{}]},
          "mark": {"type": "text", "text": "a", "font": "Liberation Sans", "fontWeight": "bold", "fontSize": 27, "color": "#000000", "baseline": "middle", "align": "center"},
          "encoding": {
            "x": {"datum": 0.67, "type": "quantitative", "axis": {"orient": "top", "values": [0, 5, 10], "labels": false, "title": null}},
            "y": {"datum": 0.76, "type": "quantitative", "axis": {"orient": "right", "values": [-1, -0.5, 0, 0.5, 1], "labels": false, "title": null}}
          }
        }
      ]
    }
  ]
},
{
  "title": {"text": "New amplifier"},
  "bounds": "flush",
  "spacing": 117,
  "resolve": {"scale": {"color": "independent"}, "legend": {"color": "independent"}},
  "hconcat": [
    {
      "width": 375, "height": 287,
      "resolve": {"axis": {"x": "independent", "y": "independent"}},
      "layer": [
        {
          "data": {"name": "bl"},
          "mark": {"type": "rule", "strokeWidth": 2.5, "clip": true},
          "encoding": {
            "x": {"field": "t", "type": "quantitative", "scale": {"domain": [0, 10], "nice": false}, "axis": {"orient": "bottom", "values": [0, 5, 10], "labelPadding": 18, "title": "Time [sec]", "titlePadding": 10}},
            "y": {"field": "lo", "type": "quantitative", "scale": {"domain": [-1, 1], "nice": false}, "axis": {"orient": "left", "values": [-1, -0.5, 0, 0.5, 1], "title": "Amplitude [V]"}},
            "y2": {"field": "hi"},
            "color": {"datum": "Left", "type": "nominal", "scale": {"range": ["#0072BD"]}, "legend": {"title": null}}
          }
        },
        {
          "data": {"values": [{}]},
          "mark": {"type": "text", "text": "b", "font": "Liberation Sans", "fontWeight": "bold", "fontSize": 27, "color": "#000000", "baseline": "middle", "align": "center"},
          "encoding": {
            "x": {"datum": 0.8, "type": "quantitative", "axis": {"orient": "top", "values": [0, 5, 10], "labels": false, "title": null}},
            "y": {"datum": 0.79, "type": "quantitative", "axis": {"orient": "right", "values": [-1, -0.5, 0, 0.5, 1], "labels": false, "title": null}}
          }
        }
      ]
    },
    {
      "width": 375, "height": 287,
      "resolve": {"axis": {"x": "independent", "y": "independent"}},
      "layer": [
        {
          "data": {"name": "br"},
          "mark": {"type": "rule", "strokeWidth": 4, "clip": true},
          "encoding": {
            "x": {"field": "t", "type": "quantitative", "scale": {"domain": [0, 10], "nice": false}, "axis": {"orient": "bottom", "values": [0, 5, 10], "labelPadding": 18, "title": "Time [sec]", "titlePadding": 10}},
            "y": {"field": "lo", "type": "quantitative", "scale": {"domain": [-1, 1], "nice": false}, "axis": {"orient": "left", "values": [-1, -0.5, 0, 0.5, 1], "labels": false, "title": null}},
            "y2": {"field": "hi"},
            "color": {"datum": "Right", "type": "nominal", "scale": {"range": ["#FF0000"]}, "legend": {"title": null}}
          }
        },
        {
          "data": {"values": [{}]},
          "mark": {"type": "text", "text": "b", "font": "Liberation Sans", "fontWeight": "bold", "fontSize": 27, "color": "#000000", "baseline": "middle", "align": "center"},
          "encoding": {
            "x": {"datum": 0.8, "type": "quantitative", "axis": {"orient": "top", "values": [0, 5, 10], "labels": false, "title": null}},
            "y": {"datum": 0.79, "type": "quantitative", "axis": {"orient": "right", "values": [-1, -0.5, 0, 0.5, 1], "labels": false, "title": null}}
          }
        }
      ]
    }
  ]
}
]
}
